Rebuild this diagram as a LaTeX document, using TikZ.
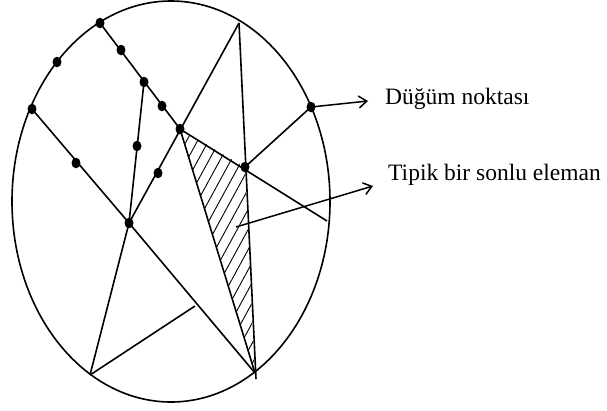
\documentclass[tikz,border=0pt]{standalone}
\usepackage{fontspec}
\setmainfont{Liberation Serif}
\usetikzlibrary{arrows.meta,shapes.geometric,calc}
\begin{document}
\begin{tikzpicture}[x=1pt,y=-1pt,
  edge/.style={line width=1.6pt},
  dot/.style={ellipse,fill=black,inner sep=0pt,minimum width=9pt,minimum height=10.5pt},
  hatch/.style={line width=0.9pt},
  pointer/.style={line width=1.5pt,-{Straight Barb[length=8pt,width=12pt,line width=1.5pt]}},
  lbl/.style={font=\fontsize{23.5}{28}\selectfont,anchor=base west,inner sep=0pt}]
\useasboundingbox (0,0) rectangle (607,410);
% outline
\draw[edge] (171,201.5) ellipse [x radius=159, y radius=200.5];
% points
\coordinate (H) at (239,23);
\coordinate (P) at (90,375);
\coordinate (Q) at (255,373);
\coordinate (Qx) at (256,379);
\coordinate (R) at (195,306);
\coordinate (S) at (327,221);
\coordinate (T1) at (236,227);
\coordinate (T2) at (373,186);
\coordinate (U) at (368,101);
\node[dot] (A) at (100,23) {};
\node[dot] (B) at (57,62) {};
\node[dot] (C) at (32,109) {};
\node[dot] (D) at (121,50) {};
\node[dot] (E) at (144,82) {};
\node[dot] (F) at (162,106) {};
\node[dot] (G) at (180,129) {};
\node[dot] (I) at (311,107) {};
\node[dot] (J) at (245,167) {};
\node[dot] (K) at (76,163) {};
\node[dot] (L) at (129,223) {};
\node[dot] (M) at (137,146) {};
\node[dot] (N) at (158,173) {};
% hatching of the typical element
\begin{scope}
  \clip (G.center) -- (J.center) -- (Q) -- cycle;
  \foreach \i in {-25,...,25}
    \draw[hatch] (215+11*\i-150,250+275) -- (215+11*\i+150,250-275);
\end{scope}
% mesh lines
\draw[edge] (A.center) -- (G.center);
\draw[edge] (C.center) -- (L.center);
\draw[edge] (E.center) -- (L.center);
\draw[edge] (H) -- (L.center);
\draw[edge] (H) -- (Qx);
\draw[edge] (G.center) -- (Q);
\draw[edge] (G.center) -- (S);
\draw[edge] (J.center) -- (I.center);
\draw[edge] (L.center) -- (P);
\draw[edge] (L.center) -- (Q);
\draw[edge] (P) -- (R);
% labels
\node[lbl] (l1) at (385,104) {Düğüm noktası};
\node[lbl] (l2) at (388,180) {Tipik bir sonlu eleman};
\draw[pointer] (I.center) -- (U);
\draw[pointer] (T1) -- (T2);
\end{tikzpicture}
\end{document}
